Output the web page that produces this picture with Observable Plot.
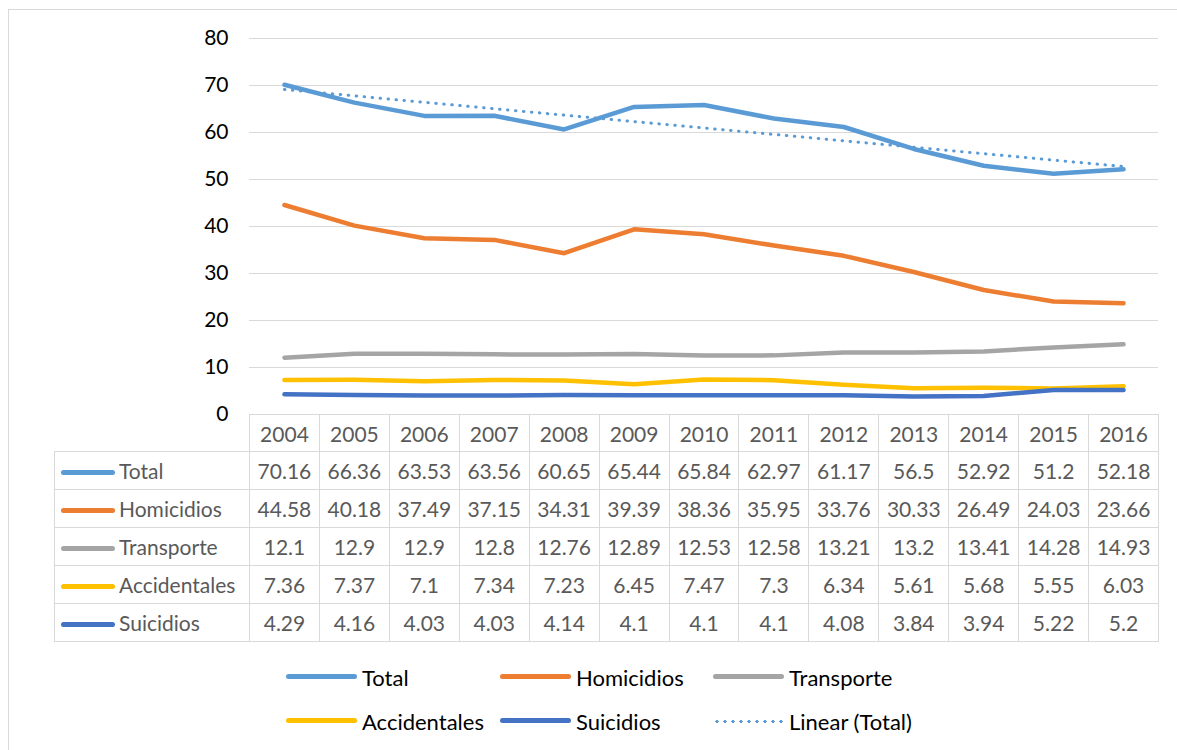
<!DOCTYPE html>
<html>
<head>
<meta charset="utf-8">
<script src="https://cdn.jsdelivr.net/npm/d3@7"></script>
<script src="https://cdn.jsdelivr.net/npm/@observablehq/plot@0.6"></script>
<style>
  html, body { margin: 0; padding: 0; background: #fff; }
  #wrap { position: relative; width: 1177px; height: 750px; overflow: hidden; font-family: Lato, sans-serif; }
  #frame { position: absolute; left: 8px; top: 9px; width: 1200px; height: 800px; border: 1px solid #d9d9d9; box-sizing: border-box; }
  #chart { position: absolute; left: 0; top: 0; }
  table { position: absolute; left: 54px; top: 414px; border-collapse: collapse; table-layout: fixed; width: 1104px; font-family: Lato, sans-serif; font-size: 21px; line-height: 21px; color: #595959; }
  td { border: 1px solid #d9d9d9; text-align: center; padding: 0; white-space: nowrap; overflow: visible; box-sizing: border-box; }
  tr.head td { height: 37px; }
  tr.body td { height: 38px; }
  td.blank { border-top: none; border-left: none; }
  td.lab { text-align: left; padding-left: 6px; }
  .sw { display: inline-block; width: 54px; height: 5px; border-radius: 3px; vertical-align: middle; margin-right: 4px; position: relative; top: -1px; }
  .leg { position: absolute; font-family: Lato, sans-serif; font-size: 22px; color: #000; display: flex; align-items: center; }
  .leg .sw { width: 71px; margin-right: 5px; height: 5px; }
  .dots { display: inline-block; width: 71px; height: 3px; margin-right: 5px; background-image: radial-gradient(circle, #5B9BD5 1.5px, transparent 1.6px); background-size: 8px 3px; background-repeat: repeat-x; }
</style>
</head>
<body>
<div id="wrap">
  <div id="frame"></div>
  <div id="chart"></div>
</div>
<script>
const years = [2004, 2005, 2006, 2007, 2008, 2009, 2010, 2011, 2012, 2013, 2014, 2015, 2016];
const seriesNames = ["Total", "Homicidios", "Transporte", "Accidentales", "Suicidios"];
const seriesColors = ["#5B9BD5", "#ED7D31", "#A5A5A5", "#FFC000", "#4472C4"];
const total        = [70.16, 66.36, 63.53, 63.56, 60.65, 65.44, 65.84, 62.97, 61.17, 56.5, 52.92, 51.2, 52.18];
const homicidios   = [44.58, 40.18, 37.49, 37.15, 34.31, 39.39, 38.36, 35.95, 33.76, 30.33, 26.49, 24.03, 23.66];
const transporte   = [12.1, 12.9, 12.9, 12.8, 12.76, 12.89, 12.53, 12.58, 13.21, 13.2, 13.41, 14.28, 14.93];
const accidentales = [7.36, 7.37, 7.1, 7.34, 7.23, 6.45, 7.47, 7.3, 6.34, 5.61, 5.68, 5.55, 6.03];
const suicidios    = [4.29, 4.16, 4.03, 4.03, 4.14, 4.1, 4.1, 4.1, 4.08, 3.84, 3.94, 5.22, 5.2];
const yTicks = [0, 10, 20, 30, 40, 50, 60, 70, 80];
const trendLabel = "Linear (Total)";

const seriesValues = [total, homicidios, transporte, accidentales, suicidios];
const rows = [];
seriesNames.forEach((name, i) => {
  years.forEach((yr, j) => rows.push({series: name, year: yr, value: seriesValues[i][j]}));
});
const totalRows = rows.filter(d => d.series === "Total");

const chart = Plot.plot({
  width: 1177,
  height: 750,
  marginLeft: 249,
  marginRight: 19,
  marginTop: 38,
  marginBottom: 336,
  style: {background: "transparent", fontFamily: "Lato, sans-serif"},
  x: {domain: [2003.5, 2016.5], axis: null},
  y: {domain: [0, 80], ticks: yTicks, axis: null, label: null},
  color: {domain: seriesNames, range: seriesColors},
  marks: [
    Plot.gridY(yTicks, {stroke: "#d9d9d9", strokeOpacity: 1, strokeWidth: 1}),
    Plot.axisY(yTicks, {tickSize: 0, tickPadding: 21, fontSize: 21, fill: "#000", tickFormat: d => d, label: null}),
    Plot.line(rows, {x: "year", y: "value", z: "series", stroke: "series", strokeWidth: 4.5, strokeLinejoin: "round", strokeLinecap: "round"}),
    Plot.linearRegressionY(totalRows, {x: "year", y: "value", stroke: "#5B9BD5", strokeWidth: 3, ci: 0, strokeDasharray: "0.5,7.5", strokeLinecap: "round"})
  ]
});
document.getElementById("chart").appendChild(chart);

// Data table
const wrap = document.getElementById("wrap");
const table = document.createElement("table");
const colgroup = document.createElement("colgroup");
const c0 = document.createElement("col"); c0.style.width = "195px"; colgroup.appendChild(c0);
years.forEach(() => { const c = document.createElement("col"); c.style.width = (909 / years.length) + "px"; colgroup.appendChild(c); });
table.appendChild(colgroup);
const hr = document.createElement("tr"); hr.className = "head";
const blank = document.createElement("td"); blank.className = "blank"; hr.appendChild(blank);
years.forEach(y => { const td = document.createElement("td"); td.textContent = y; hr.appendChild(td); });
table.appendChild(hr);
seriesNames.forEach((name, i) => {
  const tr = document.createElement("tr"); tr.className = "body";
  const lab = document.createElement("td"); lab.className = "lab";
  lab.innerHTML = `<span class="sw" style="background:${seriesColors[i]}"></span>${name}`;
  tr.appendChild(lab);
  seriesValues[i].forEach(v => { const td = document.createElement("td"); td.textContent = v; tr.appendChild(td); });
  table.appendChild(tr);
});
wrap.appendChild(table);

// Legend
const legendItems = [
  {label: seriesNames[0], color: seriesColors[0], left: 286, top: 677},
  {label: seriesNames[1], color: seriesColors[1], left: 500, top: 677},
  {label: seriesNames[2], color: seriesColors[2], left: 713, top: 677},
  {label: seriesNames[3], color: seriesColors[3], left: 286, top: 721},
  {label: seriesNames[4], color: seriesColors[4], left: 500, top: 721},
  {label: trendLabel, color: null, left: 713, top: 721}
];
legendItems.forEach(it => {
  const d = document.createElement("div");
  d.className = "leg";
  d.style.left = it.left + "px";
  d.style.top = (it.top - 13) + "px";
  d.style.height = "26px";
  d.innerHTML = it.color
    ? `<span class="sw" style="background:${it.color}"></span><span>${it.label}</span>`
    : `<span class="dots"></span><span>${it.label}</span>`;
  wrap.appendChild(d);
});
</script>
</body>
</html>
